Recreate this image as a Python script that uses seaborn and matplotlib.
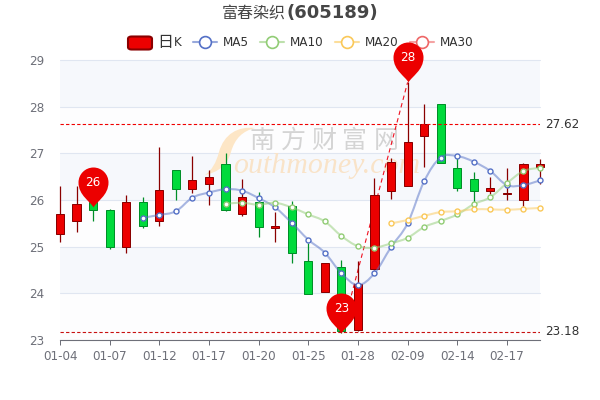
import numpy as np
import pandas as pd
import matplotlib.pyplot as plt
import seaborn as sns
from matplotlib.lines import Line2D
from matplotlib.patches import FancyBboxPatch, PathPatch
from matplotlib.path import Path

tick_labels = ['01-04', '01-07', '01-12', '01-17', '01-20', '01-25', '01-28', '02-09', '02-14', '02-17']

opens = [25.28, 25.54, 25.96, 25.78, 24.99, 25.95, 25.54, 26.64, 26.23, 26.35,
         26.77, 25.69, 25.96, 25.39, 25.88, 24.69, 24.02, 24.56, 23.21, 24.52,
         26.20, 26.31, 27.38, 28.05, 26.68, 26.45, 26.20, 26.12, 26.00, 26.71]
closes = [25.71, 25.91, 25.79, 25.00, 25.96, 25.44, 26.21, 26.23, 26.42, 26.49,
          25.79, 26.07, 25.42, 25.45, 24.86, 23.99, 24.66, 23.19, 24.21, 26.10,
          26.81, 27.24, 27.62, 26.79, 26.25, 26.20, 26.25, 26.16, 26.77, 26.77]
lows = [25.11, 25.32, 25.54, 24.96, 24.87, 25.39, 25.45, 26.00, 26.16, 25.89,
        25.77, 25.66, 25.20, 25.11, 24.66, 23.99, 24.02, 23.15, 23.20, 24.50,
        26.02, 26.31, 26.71, 26.79, 26.20, 25.89, 26.13, 26.00, 25.87, 26.34]
highs = [26.29, 26.30, 26.00, 25.81, 26.11, 26.07, 27.14, 26.65, 26.94, 26.64,
         27.00, 26.46, 26.17, 25.75, 25.98, 25.07, 24.66, 24.71, 24.70, 26.48,
         26.89, 28.52, 28.06, 28.05, 26.94, 26.59, 26.50, 26.68, 26.80, 26.88]

ma5 = [25.62, 25.68, 25.76, 26.05, 26.16, 26.23, 26.20, 26.04, 25.84, 25.51, 25.15, 24.87, 24.43,
       24.18, 24.43, 24.99, 25.50, 26.40, 26.91, 26.94, 26.82, 26.62, 26.32, 26.32, 26.42]
ma10 = [25.92, 25.94, 25.90, 25.94, 25.84, 25.69, 25.54, 25.23, 25.01, 24.98,
        25.07, 25.19, 25.42, 25.55, 25.69, 25.91, 26.06, 26.36, 26.62, 26.69]
ma20 = [25.50, 25.57, 25.66, 25.74, 25.76, 25.80, 25.80, 25.79, 25.81, 25.83]

max_line = 27.62
min_line = 23.18
pin_days = [2, 21, 17]
pin_values = [25.85, 28.52, 23.15]
pin_labels = ['26', '28', '23']

RED, RED_EDGE = '#ec0000', '#8a0000'
GREEN, GREEN_EDGE = '#00da3c', '#008f28'
MA_COLORS = {'MA5': '#5470c6', 'MA10': '#91cc75', 'MA20': '#fac858', 'MA30': '#ee6666'}
GREY = '#6e7079'


def px(x, y):
    # picture pixels to figure fractions
    return x / 600, 1 - y / 400


def smooth_path(xs, ys, s=0.18):
    pts = np.column_stack([xs, ys])
    verts, codes = [pts[0]], [Path.MOVETO]
    for i in range(len(pts) - 1):
        prev = pts[max(i - 1, 0)]
        nxt = pts[min(i + 2, len(pts) - 1)]
        verts += [pts[i] + (pts[i + 1] - prev) * s, pts[i + 1] - (nxt - pts[i]) * s, pts[i + 1]]
        codes += [Path.CURVE4] * 3
    return Path(verts, codes)


sns.set_theme(style='white')
plt.rcParams['font.family'] = ['DejaVu Sans', 'Noto Sans CJK SC']

fig = plt.figure(figsize=(6, 4), dpi=100)
ax = fig.add_axes([60 / 600, 60 / 400, 480 / 600, 280 / 400])
ax.set_xlim(0, 29)
ax.set_ylim(23, 29)
ax.patch.set_visible(False)

# split areas and grid
for low in range(23, 29):
    ax.axhspan(low, low + 1, color='#f6f8fc' if low in (24, 26, 28) else '#fdfdfe', lw=0, zorder=0)
for level in range(24, 30):
    ax.axhline(level, color='#e0e6f1', lw=0.8, zorder=1, clip_on=False)

# watermark
for i, ch in enumerate('南方财富网'):
    ax.text(*px(262 + i * 31, 141), ch, transform=fig.transFigure, fontsize=18, fontweight='medium', color='#d4d4d4',
            family='Noto Sans CJK SC', ha='center', va='center', zorder=1.5)
ax.text(0.361, 0.62, 'outhmoney.com', transform=ax.transAxes, fontsize=21.5, style='italic',
        family='Liberation Serif', color='#f9e3c8', va='center', zorder=1.5)
s_verts = [(255, 128), (238, 126), (224, 134), (219, 152), (216, 163), (212, 170), (205, 175),
           (218, 172), (227, 166), (231, 152), (235, 138), (243, 131), (255, 128)]
s_codes = [Path.MOVETO] + [Path.CURVE4] * 12
s_fig = [px(*v) for v in s_verts]
ax.add_patch(PathPatch(Path(s_fig, s_codes), transform=fig.transFigure, fc='#fde6c6', ec='none', zorder=1.4))

# min to max line
ax.plot([pin_days[2], pin_days[1]], [pin_values[2], pin_values[1]], color='#f01020', lw=0.8, ls=(0, (4, 3)), zorder=2)

# candles
days = np.arange(len(opens))
o, c = np.array(opens), np.array(closes)
up = c >= o
wick_cols = [RED_EDGE if u else GREEN_EDGE for u in up]
ax.vlines(days, lows, highs, colors=wick_cols, lw=0.9, zorder=3, clip_on=False)
ax.bar(days, np.abs(c - o), bottom=np.minimum(o, c), width=0.49,
       color=[RED if u else GREEN for u in up], edgecolor=[RED_EDGE if u else GREEN_EDGE for u in up],
       linewidth=0.72, zorder=3.2, clip_on=False)

# moving averages
for name, values in [('MA5', ma5), ('MA10', ma10), ('MA20', ma20)]:
    frame = pd.DataFrame({'day': days[-len(values):], 'value': values})
    col = MA_COLORS[name]
    ax.add_patch(PathPatch(smooth_path(frame['day'], frame['value']), fc='none', ec=col,
                           lw=1.5, alpha=0.5, zorder=4, clip_on=False))
    sns.lineplot(data=frame, x='day', y='value', ax=ax, color=col, linewidth=0, marker='o', markersize=3.6,
                 markerfacecolor='white', markeredgecolor=col, markeredgewidth=1.0, errorbar=None,
                 zorder=4.5, clip_on=False, legend=False)
ax.set_xlim(0, 29)
ax.set_ylim(23, 29)

# max and min level lines
ax.axhline(max_line, color='#f00000', lw=0.8, ls=(0, (3, 2)), zorder=5)
ax.axhline(min_line, color='#c81010', lw=0.8, ls=(0, (3, 2)), zorder=5)
ax.annotate('%.2f' % max_line, (29, max_line), xytext=(3.6, 0), textcoords='offset points',
            color='#333333', fontsize=8.64, va='center')
ax.annotate('%.2f' % min_line, (29, min_line), xytext=(3.6, 0), textcoords='offset points',
            color='#333333', fontsize=8.64, va='center')

# pins, tip sits on the data point
r = 15
tail = Path([(0, 0), (-3, 6), (-r, 12), (-r, 25), (-r, 33.3), (-8.3, 40), (0, 40), (8.3, 40), (r, 33.3),
             (r, 25), (r, 12), (3, 6), (0, 0), (0, 0)],
            [Path.MOVETO] + [Path.CURVE4] * 12 + [Path.CLOSEPOLY])
for d, v, lab in zip(pin_days, pin_values, pin_labels):
    ax.plot([d], [v], marker=tail, markersize=80 * 0.72, color=RED, mew=0, zorder=6, clip_on=False)
    ax.annotate(lab, (d, v), xytext=(0, 25 * 0.72), textcoords='offset points', color='white',
                fontsize=8.64, ha='center', va='center', zorder=7)

# axes
sns.despine(ax=ax, left=True, top=True, right=True)
ax.spines['bottom'].set_color(GREY)
ax.spines['bottom'].set_linewidth(0.8)
ax.spines['bottom'].set_zorder(2)
ax.set_xticks(np.arange(len(tick_labels)) * 3)
ax.set_xticklabels(tick_labels)
ax.set_yticks(range(23, 30))
ax.tick_params(axis='x', bottom=True, length=3.6, width=0.72, color=GREY, labelcolor=GREY, labelsize=8.64, pad=3.5)
ax.tick_params(axis='y', left=False, labelcolor=GREY, labelsize=8.64, pad=5.5)
ax.set_xlabel('')
ax.set_ylabel('')

# title
fig.text(*px(286, 13), '富春染织', fontsize=11.5, family='Noto Sans CJK SC', color='#464646', ha='right', va='center')
fig.text(*px(286, 13), '(605189)', fontsize=13, fontweight='bold', color='#464646', ha='left', va='center')

# legend
fig.add_artist(FancyBboxPatch(px(128, 49.5), 24 / 600, 13 / 400, boxstyle='round,pad=0,rounding_size=0.006',
                              transform=fig.transFigure, fc=RED, ec=RED_EDGE, lw=1.5, zorder=-1))
fig.text(*px(165, 42), '日', fontsize=11.5, family='Noto Sans CJK SC', color='#333333', ha='center', va='center', zorder=-1)
fig.text(*px(174, 42.5), 'K', fontsize=8.64, color='#333333', va='center', zorder=-1)
for name, x0 in [('MA5', 193), ('MA10', 260), ('MA20', 335), ('MA30', 410)]:
    col = MA_COLORS[name]
    xa, ya = px(x0, 42)
    xb, _ = px(x0 + 24, 42)
    fig.add_artist(Line2D([xa, xb], [ya, ya], color=col, lw=1.5, alpha=0.6, transform=fig.transFigure, zorder=-1))
    fig.add_artist(Line2D([(xa + xb) / 2], [ya], marker='o', ms=8.5, mfc='white', mec=col, mew=1.2,
                          transform=fig.transFigure, zorder=-1))
    fig.text(*px(x0 + 30, 42.5), name, fontsize=8.64, color='#333333', va='center', zorder=-1)

fig.savefig('out.png', dpi=100)
